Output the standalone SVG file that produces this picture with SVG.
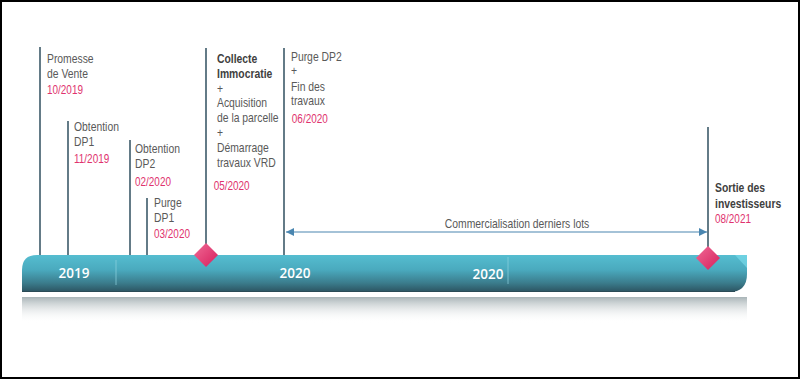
<svg xmlns="http://www.w3.org/2000/svg" width="800" height="379" viewBox="0 0 800 379">
<defs>
<style>
.t{font-family:"Liberation Sans",Arial,sans-serif;font-size:12.5px;fill:#595959}
.b{font-weight:bold;fill:#404040}
.d{font-family:"Liberation Sans",Arial,sans-serif;font-size:12px;fill:#e0336e}
.y{font-family:"Open Sans","Liberation Sans",sans-serif;font-size:13.5px;font-weight:600;fill:#ffffff}
.v{stroke:#3d5a69;stroke-width:1.6;fill:none}
.sep{stroke:#8fd3e0;stroke-width:1;opacity:0.7}
</style>
<linearGradient id="bar" x1="0" y1="0" x2="0" y2="1">
<stop offset="0" stop-color="#55bdd0"/>
<stop offset="0.4" stop-color="#4aaabe"/>
<stop offset="0.75" stop-color="#3b7d8d"/>
<stop offset="1" stop-color="#2c5360"/>
</linearGradient>
<linearGradient id="refl" x1="0" y1="0" x2="0" y2="1">
<stop offset="0" stop-color="#a9b4b7"/>
<stop offset="1" stop-color="#ffffff" stop-opacity="0"/>
</linearGradient>
<linearGradient id="dia" x1="0" y1="0" x2="1" y2="1">
<stop offset="0" stop-color="#f06a96"/>
<stop offset="1" stop-color="#d61f5c"/>
</linearGradient>
<marker id="ah" viewBox="0 0 10 10" refX="10" refY="5" markerWidth="8" markerHeight="8" orient="auto-start-reverse" markerUnits="userSpaceOnUse">
<path d="M0,0 L10,5 L0,10 Z" fill="#4a86b0"/>
</marker>
</defs>
<rect x="0" y="0" width="800" height="379" fill="#ffffff"/>
<rect x="1" y="1" width="798" height="377" fill="none" stroke="#000" stroke-width="2"/>

<g id="timeline-bar">
<rect x="22" y="297" width="725" height="26" fill="url(#refl)"/>
<path d="M22,292 L22,270 Q22,255 37,255 L747,255 L747,274 Q747,292 729,292 Z" fill="url(#bar)"/>
<path d="M735,255 L747,255 L747,268 Z" fill="#7fe0ee" opacity="0.6"/>
<line x1="22" y1="291.5" x2="735" y2="291.5" stroke="#2a4a55" stroke-width="1"/>
<line class="sep" x1="116" y1="260" x2="116" y2="285"/>
<line class="sep" x1="508" y1="257" x2="508" y2="284"/>
<text class="y" x="74" y="278" text-anchor="middle">2019</text>
<text class="y" x="295" y="278" text-anchor="middle">2020</text>
<text class="y" x="488" y="279" text-anchor="middle">2020</text>
</g>

<g id="connectors">
<line class="v" x1="40" y1="47" x2="40" y2="255"/>
<line class="v" x1="68" y1="121" x2="68" y2="255"/>
<line class="v" x1="130" y1="140" x2="130" y2="255"/>
<line class="v" x1="147" y1="198" x2="147" y2="255"/>
<line class="v" x1="206" y1="48" x2="206" y2="250"/>
<line class="v" x1="284" y1="48" x2="284" y2="255"/>
<line class="v" x1="708" y1="127" x2="708" y2="252"/>
<line x1="286" y1="232" x2="707" y2="232" stroke="#4a86b0" stroke-width="1.2" marker-start="url(#ah)" marker-end="url(#ah)"/>
<g transform="translate(517,0) scale(0.83,1)"><text class="t" x="0" y="228" text-anchor="middle">Commercialisation derniers lots</text></g>
</g>

<g id="m1" transform="translate(47,0) scale(0.83,1)">
<text class="t" x="0" y="63">Promesse</text>
<text class="t" x="0" y="78">de Vente</text>
<text class="d" x="0" y="94">10/2019</text>
</g>
<g id="m2" transform="translate(74,0) scale(0.83,1)">
<text class="t" x="0" y="131">Obtention</text>
<text class="t" x="0" y="146">DP1</text>
<text class="d" x="0" y="163">11/2019</text>
</g>
<g id="m3" transform="translate(135,0) scale(0.83,1)">
<text class="t" x="0" y="153">Obtention</text>
<text class="t" x="0" y="168">DP2</text>
<text class="d" x="0" y="186">02/2020</text>
</g>
<g id="m4" transform="translate(154,0) scale(0.83,1)">
<text class="t" x="0" y="207">Purge</text>
<text class="t" x="0" y="222">DP1</text>
<text class="d" x="0" y="238">03/2020</text>
</g>
<g id="m5">
<g transform="translate(217,0) scale(0.83,1)">
<text class="t b" x="0" y="63">Collecte</text>
<text class="t b" x="0" y="78">Immocratie</text>
<text class="t" x="0" y="93">+</text>
<text class="t" x="0" y="107">Acquisition</text>
<text class="t" x="0" y="122">de la parcelle</text>
<text class="t" x="0" y="137">+</text>
<text class="t" x="0" y="152">Démarrage</text>
<text class="t" x="0" y="167">travaux VRD</text>
<text class="d" x="-4" y="190">05/2020</text>
</g>
<path d="M206,243 L218,255 L206,267 L194,255 Z" fill="url(#dia)"/>
</g>
<g id="m6" transform="translate(291,0) scale(0.83,1)">
<text class="t" x="0" y="61">Purge DP2</text>
<text class="t" x="0" y="75">+</text>
<text class="t" x="0" y="91">Fin des</text>
<text class="t" x="0" y="105">travaux</text>
<text class="d" x="1" y="123">06/2020</text>
</g>
<g id="m7">
<g transform="translate(715,0) scale(0.83,1)">
<text class="t b" x="0" y="192">Sortie des</text>
<text class="t b" x="0" y="208">investisseurs</text>
<text class="d" x="0" y="223">08/2021</text>
</g>
<path d="M708,246 L720,258 L708,270 L696,258 Z" fill="url(#dia)"/>
</g>
</svg>
